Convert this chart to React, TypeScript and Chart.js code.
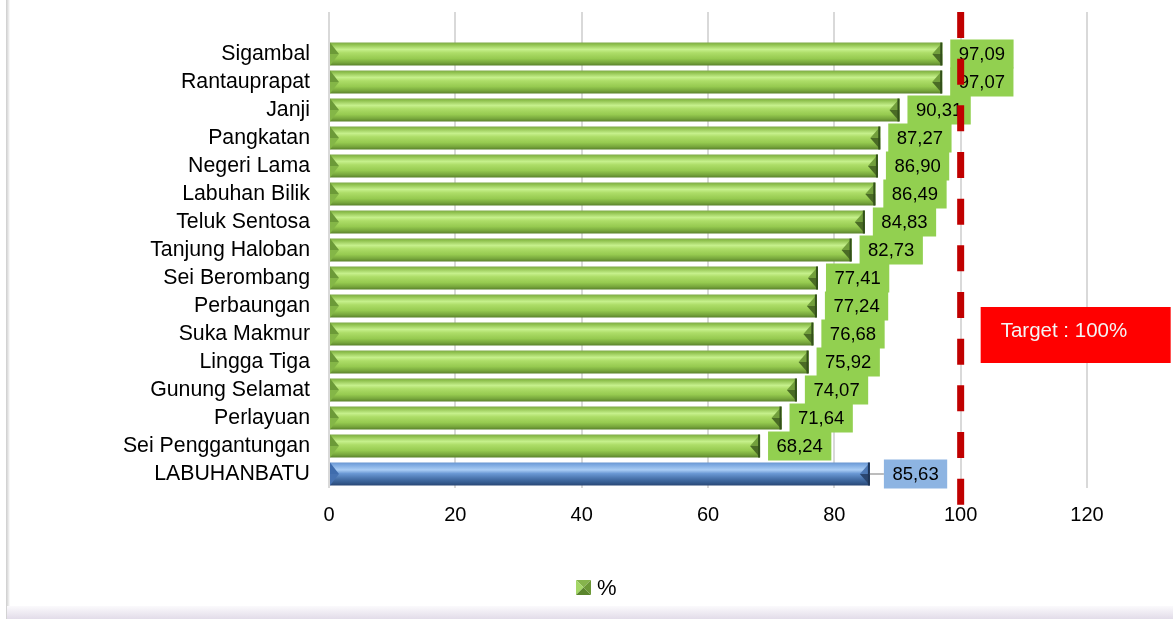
import React, { useEffect, useRef } from "react";
import { Chart, registerables } from "chart.js";

Chart.register(...registerables);

// Kecamatan names, top to bottom, with the regency total last
const categories = [
  "Sigambal",
  "Rantauprapat",
  "Janji",
  "Pangkatan",
  "Negeri Lama",
  "Labuhan Bilik",
  "Teluk Sentosa",
  "Tanjung Haloban",
  "Sei Berombang",
  "Perbaungan",
  "Suka Makmur",
  "Lingga Tiga",
  "Gunung Selamat",
  "Perlayuan",
  "Sei Penggantungan",
  "LABUHANBATU",
];

// Coverage in percent
const values = [
  97.09, 97.07, 90.31, 87.27, 86.9, 86.49, 84.83, 82.73, 77.41, 77.24, 76.68,
  75.92, 74.07, 71.64, 68.24, 85.63,
];

const xTicks = [0, 20, 40, 60, 80, 100, 120];
const targetValue = 100;
const targetText = "Target : 100%";
const seriesName = "%";

const FONT = "'Liberation Sans', Arial, Helvetica, sans-serif";
const BAR_PCT = 0.82;

// one empty slot above the first row keeps the rows where the axis puts them
const labels = ["", ...categories];
const data: (number | null)[] = [null, ...values];
const totalIndex = labels.length - 1;

const greenStops: [number, string][] = [
  [0, "#7FA94A"],
  [0.08, "#8DBF4C"],
  [0.3, "#C6F08C"],
  [0.45, "#ADDD68"],
  [0.7, "#96CA50"],
  [0.88, "#77A63C"],
  [1, "#5A822C"],
];
const blueStops: [number, string][] = [
  [0, "#6A96D0"],
  [0.08, "#78A5DE"],
  [0.32, "#AACDF5"],
  [0.48, "#6A98D4"],
  [0.72, "#4670A8"],
  [0.88, "#345A8E"],
  [1, "#2A4775"],
];

const fmt = (v: number) => v.toFixed(2).replace(".", ",");

const decorations = {
  id: "decorations",
  beforeDraw(chart: any) {
    const { ctx, width, height } = chart;
    ctx.save();
    ctx.fillStyle = "#ffffff";
    ctx.fillRect(0, 0, width, height);
    // left frame edge
    const lg = ctx.createLinearGradient(6, 0, 10, 0);
    lg.addColorStop(0, "#cdcdcd");
    lg.addColorStop(0.5, "#e3e3e3");
    lg.addColorStop(1, "#ffffff");
    ctx.fillStyle = lg;
    ctx.fillRect(6, 0, 4, height);
    // bottom frame band
    const bg = ctx.createLinearGradient(0, height - 13, 0, height);
    bg.addColorStop(0, "#fbfafc");
    bg.addColorStop(1, "#e2dce9");
    ctx.fillStyle = bg;
    ctx.fillRect(7, height - 13, width - 7, 13);
    ctx.restore();
  },
  afterDatasetsDraw(chart: any) {
    const ctx = chart.ctx;
    const meta = chart.getDatasetMeta(0);
    ctx.save();
    const tri = (pts: number[][], color: string) => {
      ctx.fillStyle = color;
      ctx.beginPath();
      ctx.moveTo(pts[0][0], pts[0][1]);
      for (let k = 1; k < pts.length; k++) ctx.lineTo(pts[k][0], pts[k][1]);
      ctx.closePath();
      ctx.fill();
    };
    // bevelled bar ends
    meta.data.forEach((el: any, i: number) => {
      if (data[i] == null) return;
      const { x, y, base, height } = el.getProps(["x", "y", "base", "height"], true);
      const top = y - height / 2;
      const bot = y + height / 2;
      const bl = 9;
      const br = 10;
      const blue = i === totalIndex;
      // left end
      tri([[base, top], [base + bl, y], [base, y]], blue ? "#3F6CAD" : "#6C9A38");
      tri([[base, y], [base + bl, y], [base, bot]], blue ? "#4672B2" : "#84B647");
      // right end
      tri([[x, top], [x - br, y], [x, y]], blue ? "#4D78B4" : "#729F3C");
      tri([[x, y], [x - br, y], [x, bot]], blue ? "#2A4670" : "#4A6B25");
      ctx.fillStyle = blue ? "#1F3556" : "#32501A";
      ctx.fillRect(x - 2, top, 2, height);
    });

    // value labels
    ctx.font = `18.5px ${FONT}`;
    ctx.textAlign = "center";
    ctx.textBaseline = "middle";
    meta.data.forEach((el: any, i: number) => {
      const v = data[i];
      if (v == null) return;
      const { x, y } = el.getProps(["x", "y"], true);
      const blue = i === totalIndex;
      const text = fmt(v);
      const tw = ctx.measureText(text).width;
      const gap = blue ? 14 : 8;
      const w = tw + 17;
      const h = 29;
      const left = x + gap;
      if (blue) {
        ctx.strokeStyle = "#A6A6A6";
        ctx.lineWidth = 1.5;
        ctx.beginPath();
        ctx.moveTo(x, y);
        ctx.lineTo(left, y);
        ctx.stroke();
      }
      ctx.fillStyle = blue ? "#8DB4E2" : "#92D050";
      ctx.fillRect(left, y - h / 2, w, h);
      ctx.fillStyle = "#000000";
      ctx.fillText(text, left + w / 2, y + 1);
    });
    ctx.restore();
  },
  afterDraw(chart: any) {
    const { ctx, chartArea, scales } = chart;
    const px = scales.x.getPixelForValue(targetValue);
    ctx.save();
    // target line
    ctx.strokeStyle = "#C00000";
    ctx.lineWidth = 7;
    ctx.lineCap = "butt";
    ctx.setLineDash([26, 20.67]);
    ctx.beginPath();
    ctx.moveTo(px, chartArea.top);
    ctx.lineTo(px, chartArea.bottom + 17);
    ctx.stroke();
    ctx.setLineDash([]);

    // target callout
    const bx = px + 20;
    const by = chartArea.top + 295;
    ctx.fillStyle = "#FF0000";
    ctx.fillRect(bx, by, 190, 56);
    ctx.fillStyle = "#F4F4F4";
    ctx.font = `20.5px ${FONT}`;
    ctx.textAlign = "left";
    ctx.textBaseline = "middle";
    ctx.fillText(targetText, bx + 20, by + 24);

    // legend
    const lx = chart.width / 2 - 10.5;
    const ly = 580;
    const s = 15;
    const cx = lx + s / 2;
    const cy = ly + s / 2;
    const tri = (pts: number[][], color: string) => {
      ctx.fillStyle = color;
      ctx.beginPath();
      ctx.moveTo(pts[0][0], pts[0][1]);
      for (let k = 1; k < pts.length; k++) ctx.lineTo(pts[k][0], pts[k][1]);
      ctx.closePath();
      ctx.fill();
    };
    tri([[lx, ly], [lx + s, ly], [cx, cy]], "#86B44C");
    tri([[lx, ly], [cx, cy], [lx, ly + s]], "#A4D766");
    tri([[lx, ly + s], [cx, cy], [lx + s, ly + s]], "#5B852D");
    tri([[lx + s, ly], [lx + s, ly + s], [cx, cy]], "#6C9837");
    ctx.fillStyle = "#000000";
    ctx.font = `22px ${FONT}`;
    ctx.textAlign = "left";
    ctx.fillText(seriesName, lx + s + 6, cy + 1);
    ctx.restore();
  },
};

export default function App() {
  const ref = useRef<HTMLCanvasElement | null>(null);

  useEffect(() => {
    if (!ref.current) return;
    const chart = new Chart(ref.current, {
      type: "bar",
      data: {
        labels,
        datasets: [
          {
            label: seriesName,
            data,
            barPercentage: BAR_PCT,
            categoryPercentage: 1,
            borderWidth: 0,
            backgroundColor: (c: any) => {
              const chart = c.chart;
              const ys = chart.scales?.y;
              if (!ys || c.dataIndex == null) return "#9BCB5A";
              const yc = ys.getPixelForValue(c.dataIndex);
              const h = (ys.height / labels.length) * BAR_PCT;
              if (!Number.isFinite(yc) || !Number.isFinite(h) || h <= 0) return "#9BCB5A";
              const g = chart.ctx.createLinearGradient(0, yc - h / 2, 0, yc + h / 2);
              const stops = c.dataIndex === totalIndex ? blueStops : greenStops;
              stops.forEach(([o, col]) => g.addColorStop(o, col));
              return g;
            },
          },
        ],
      },
      options: {
        indexAxis: "y",
        responsive: false,
        devicePixelRatio: 1,
        animation: false,
        layout: { padding: { left: 0, right: 86, top: 12, bottom: 71 } },
        plugins: {
          legend: { display: false },
          tooltip: { enabled: false },
        },
        scales: {
          x: {
            min: 0,
            max: 120,
            afterBuildTicks: (s: any) => {
              s.ticks = xTicks.map((v) => ({ value: v }));
            },
            afterFit: (s: any) => {
              s.height = 60;
            },
            grid: { color: "#D9D9D9", lineWidth: 2, drawTicks: false },
            border: { display: false },
            ticks: {
              color: "#000000",
              padding: 15,
              font: { family: FONT, size: 20 },
            },
          },
          y: {
            afterFit: (s: any) => {
              s.width = 329;
              s.paddingTop = 0;
              s.paddingBottom = 0;
            },
            grid: { display: false, drawTicks: false },
            border: { display: false },
            ticks: {
              color: "#000000",
              padding: 19,
              autoSkip: false,
              font: { family: FONT, size: 21.3 },
            },
          },
        },
      },
      plugins: [decorations],
    } as any);
    return () => chart.destroy();
  }, []);

  return (
    <div
      style={{
        position: "absolute",
        left: 0,
        top: 0,
        width: 1173,
        height: 619,
        background: "#ffffff",
      }}
    >
      <canvas ref={ref} width={1173} height={619} style={{ display: "block" }} />
    </div>
  );
}
